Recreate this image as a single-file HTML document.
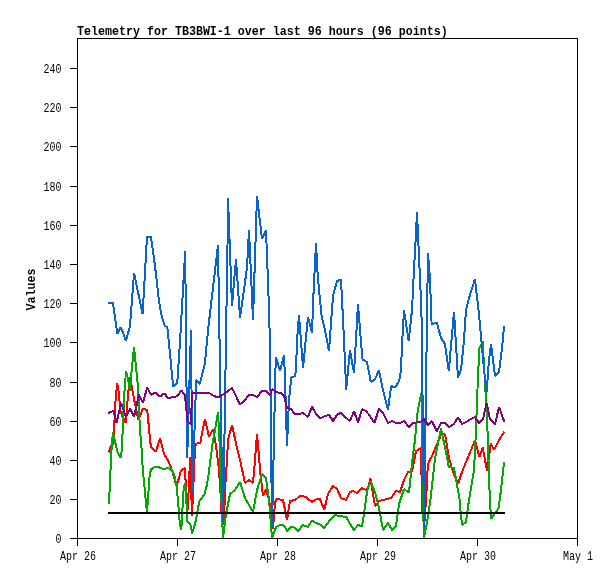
<!DOCTYPE html>
<html><head><meta charset="utf-8"><title>Telemetry</title>
<style>
html,body{margin:0;padding:0;background:#fff;}
body{width:615px;height:579px;overflow:hidden;}
svg{display:block;will-change:transform}
text{font-family:"Liberation Mono",monospace;fill:#000}
.s{font-size:10px}
.b{font-size:11.67px;font-weight:bold}
</style></head><body>
<svg width="615" height="579" viewBox="0 0 615 579">
<rect width="615" height="579" fill="#fff"/>
<rect x="77.5" y="38.5" width="500" height="500" fill="none" stroke="#000" stroke-width="1" shape-rendering="crispEdges"/>
<line x1="70" y1="538.5" x2="77" y2="538.5" stroke="#000" stroke-width="1" shape-rendering="crispEdges"/><text transform="translate(61.4,542.9) scale(1,1.2)" text-anchor="end" class="s">0</text><line x1="70" y1="499.5" x2="77" y2="499.5" stroke="#000" stroke-width="1" shape-rendering="crispEdges"/><text transform="translate(61.4,503.9) scale(1,1.2)" text-anchor="end" class="s">20</text><line x1="70" y1="460.5" x2="77" y2="460.5" stroke="#000" stroke-width="1" shape-rendering="crispEdges"/><text transform="translate(61.4,464.9) scale(1,1.2)" text-anchor="end" class="s">40</text><line x1="70" y1="421.5" x2="77" y2="421.5" stroke="#000" stroke-width="1" shape-rendering="crispEdges"/><text transform="translate(61.4,425.9) scale(1,1.2)" text-anchor="end" class="s">60</text><line x1="70" y1="382.5" x2="77" y2="382.5" stroke="#000" stroke-width="1" shape-rendering="crispEdges"/><text transform="translate(61.4,386.9) scale(1,1.2)" text-anchor="end" class="s">80</text><line x1="70" y1="342.5" x2="77" y2="342.5" stroke="#000" stroke-width="1" shape-rendering="crispEdges"/><text transform="translate(61.4,346.9) scale(1,1.2)" text-anchor="end" class="s">100</text><line x1="70" y1="303.5" x2="77" y2="303.5" stroke="#000" stroke-width="1" shape-rendering="crispEdges"/><text transform="translate(61.4,307.9) scale(1,1.2)" text-anchor="end" class="s">120</text><line x1="70" y1="264.5" x2="77" y2="264.5" stroke="#000" stroke-width="1" shape-rendering="crispEdges"/><text transform="translate(61.4,268.9) scale(1,1.2)" text-anchor="end" class="s">140</text><line x1="70" y1="225.5" x2="77" y2="225.5" stroke="#000" stroke-width="1" shape-rendering="crispEdges"/><text transform="translate(61.4,229.9) scale(1,1.2)" text-anchor="end" class="s">160</text><line x1="70" y1="186.5" x2="77" y2="186.5" stroke="#000" stroke-width="1" shape-rendering="crispEdges"/><text transform="translate(61.4,190.9) scale(1,1.2)" text-anchor="end" class="s">180</text><line x1="70" y1="146.5" x2="77" y2="146.5" stroke="#000" stroke-width="1" shape-rendering="crispEdges"/><text transform="translate(61.4,150.9) scale(1,1.2)" text-anchor="end" class="s">200</text><line x1="70" y1="107.5" x2="77" y2="107.5" stroke="#000" stroke-width="1" shape-rendering="crispEdges"/><text transform="translate(61.4,111.9) scale(1,1.2)" text-anchor="end" class="s">220</text><line x1="70" y1="68.5" x2="77" y2="68.5" stroke="#000" stroke-width="1" shape-rendering="crispEdges"/><text transform="translate(61.4,72.9) scale(1,1.2)" text-anchor="end" class="s">240</text>
<line x1="77.5" y1="538" x2="77.5" y2="546" stroke="#000" stroke-width="1" shape-rendering="crispEdges"/><text transform="translate(78,559.5) scale(1,1.2)" text-anchor="middle" class="s">Apr 26</text><line x1="177.5" y1="538" x2="177.5" y2="546" stroke="#000" stroke-width="1" shape-rendering="crispEdges"/><text transform="translate(178,559.5) scale(1,1.2)" text-anchor="middle" class="s">Apr 27</text><line x1="277.5" y1="538" x2="277.5" y2="546" stroke="#000" stroke-width="1" shape-rendering="crispEdges"/><text transform="translate(278,559.5) scale(1,1.2)" text-anchor="middle" class="s">Apr 28</text><line x1="377.5" y1="538" x2="377.5" y2="546" stroke="#000" stroke-width="1" shape-rendering="crispEdges"/><text transform="translate(378,559.5) scale(1,1.2)" text-anchor="middle" class="s">Apr 29</text><line x1="477.5" y1="538" x2="477.5" y2="546" stroke="#000" stroke-width="1" shape-rendering="crispEdges"/><text transform="translate(478,559.5) scale(1,1.2)" text-anchor="middle" class="s">Apr 30</text><line x1="577.5" y1="538" x2="577.5" y2="546" stroke="#000" stroke-width="1" shape-rendering="crispEdges"/><text transform="translate(578,559.5) scale(1,1.2)" text-anchor="middle" class="s">May 1</text>
<text transform="translate(77,34.6) scale(1,1.1)" class="b">Telemetry for TB3BWI-1 over last 96 hours (96 points)</text>
<text transform="translate(35.3,289.5) rotate(-90) scale(1,1.1)" text-anchor="middle" class="b">Values</text>
<polyline points="109,451.3 110.6,446.7 113.6,443.2 115.1,405.3 117.1,383.1 119.1,394.2 120.1,410.3 121.6,414.4 125.7,422.9 126.7,410.3 128.2,393.2 129.7,377 131.7,386 134.2,400 138.3,419.4 140.8,414.4 142.8,408.3 147.3,410.3 149.4,433 150.9,447.2 155.9,451.8 160,438.1 164,454.2 168,460.2 172,470.3 176.6,486.5 180.7,471.3 184.7,467.8 187.7,510.2 190.2,457.2 192,516 194.8,452.2 195.8,443.6 200.3,443.1 202.3,432 205,419 209,437 213,429 216,446 219,470 221,500 222,527 224,520 225,490 227,460 228,440 232,425 237,448 240,460 245,483 249,480 253,483 255,460 257,434 259,456 260,470 263,496 266,489 269,500 272,520 273,529 275,502 277,499 283,500 287,520 290,501 295,500 300,496 305,496.6 312,502 316,499.4 320,499 324.2,510 328,494 333,486 337,489 341,498 346,500 350,492 353,491 357,493 361.6,488 366,490 368,488 370.4,478 375,506 379,501 383,500 387,499 391,498 396,491 400,492 404,480 408,472 412,471 416,451 421,448 421.4,470 422.6,516 424.3,524.5 426,500 427,482 427.6,469 428.6,462 432,456 437,444 441,435 445,434 449,458 453,472 458,484 462,472 466,462 471,450 475,440 479.3,457 482.7,447.3 487,470.5 490.8,443.5 494,450 499,440 504,432.4" fill="none" stroke="#FF0000" stroke-width="2" stroke-linejoin="bevel" stroke-linecap="square" shape-rendering="crispEdges"/>
<polyline points="109,503 111,459 112,441 113,432.6 115,441 117.1,451 120.6,457.8 122,449 122.6,432 124.2,395 126,371 128.2,380 130,391 131.2,375 134,347 136.3,370 137.8,385 138.8,400 139.8,428 141.8,451 142.8,470 147,512.5 149.4,478 150.9,469.4 154.4,467.4 159.4,467.4 163.5,469.3 167.6,467.8 172,470.3 174.1,474.4 176.6,486.5 178.1,502 179.7,522 180.9,529.4 182.2,522 182.7,500 183.7,489 185,483 186.4,494 186.7,520.8 189.2,522.8 190.7,525.3 192,533.4 194.3,526.4 196.3,518.3 197.8,509.2 199.3,501.2 204.4,494.6 206.9,485 208.4,475.4 210.4,460.2 212.4,445 215,430 218,412.4 220,450 221,490 223,538 226,514 230,494 235,490 240,482 245,498 253,512 257,490 262,474 266,478 269,500 272,538 276,527 280,525 284,525.4 287,531 291,527 294,527.4 298,531 303,525 308,527 312,520.6 316,523 320,524.5 324,528 330,520 335,515 340,516.4 346,516.6 350,524 354,530 358,525 362,526.4 364,514 367,492 370.4,481 375,492 379,508 383,530 388,523 392,530 396,526 399,504 404,489 409,492.5 410.5,478 412,463 413.6,450 415,440 417,416 419,404 421.5,393 422,440 423,500 424,538 427,522 430.7,498 433,476 435.1,458 441,428.5 447.2,458 448.8,467.2 453.9,467.7 455.4,475.3 457.4,487.4 459.4,497.5 460,506 462,525 466,522 469,500 474,470 476,430 477,400 478,378 479,355 479.5,348 482.6,341.5 483.7,360 485.7,395 486.4,410 488,440 489,480 491,519 495,513 498.4,509 501,490 504,463" fill="none" stroke="#00AA00" stroke-width="2" stroke-linejoin="bevel" stroke-linecap="square" shape-rendering="crispEdges"/>
<polyline points="109,303 113,303 117.3,334 120.8,327 126,341 130,326 134,273 138.2,293 142.6,314 147,237 151,237 155,266 159,301 161,313 163,321 165,326 167.3,327 173.2,386.5 177.3,382.5 179.8,345 185.2,251 187.2,458 191,330 192.4,493 196.2,380 199.8,384 204.8,364 208.3,328 212,296 218,245 219.3,327 220.3,386 223,522 225.1,400 226.2,320 227.2,275 228,198 232,306 236,259 240,317.5 247,268 249,230 253,319.7 257,196 262,239 266,230 267.8,277 269,309 270,345 272,528 274.4,420 275,380 276,357 280,371 284,355.5 285,378 287,446 289,400 291.3,377.5 295.3,376 296.3,360 297.3,337 299,315 303,368 308,317 312,333 313.2,300 316,243 317.6,274 319.6,296 321.6,316 325,330 329,351 333,296 337,281 341,279.6 343.3,325 346.2,389.5 350,350 354,373 358,304 360.8,340 362.6,359.6 367,362 370.8,382 375,379.5 379,370 383,390 388,409.5 391.2,386 395.3,387.5 399.3,380.5 401,370 402,345 404,310.5 408.7,341 412,310 413.6,277 415.3,246 417,212 418.6,248 420.3,285 421.7,322 424,527 427.4,290 428,253 430,280 431.6,324 437,323 441,338 445,344 448.8,371 454,312 458,377.5 461,370 464,340 466,310 469,298 475,279 477,297 479,314 481,336 484,370 486.6,391.7 489,360 491,344 495,376 499,372 502,348 504,327" fill="none" stroke="#0864CC" stroke-width="2" stroke-linejoin="bevel" stroke-linecap="square" shape-rendering="crispEdges"/>
<polyline points="109,412.8 113.6,410.8 116.6,422.9 121.1,402.8 125.7,416.9 130.2,408.8 134.2,416.9 138.8,394.7 142.8,402.8 147.3,387.6 150.9,394.7 155.4,392.7 160,396.7 164.5,393.2 168,398.6 172,397 177,396.4 181.4,390.6 185,395 187.4,421 191,424.4 192,393 209,393 214,396 218,397.4 224,394 232,388 240,404.4 244,401 249,395 253,395 257,397 262,391 266,391 270,395 272,389 277,392.4 281,393 284,396 287,408 291,409 295,414.4 299,414 303,413 308,417 312,406.5 316,414 320,418.4 324,416.4 329,415 333,421 337,415 341,412.4 345,417 350,421 354,411 358,422.6 362,409 366,411 370,416 374.4,423 379,408.6 383,413 388,423 392,421 396,423 400,423 404,421 409,427 413,423 417,422.6 421,421.6 424,419 428,425 432,421 436.8,431.5 441,423 445,423 449,427 454,424 458,417 462,424 466,422 471,419 475,417 479,423 483,419 486.6,403 490,419 495,424.4 499,407 504,421" fill="none" stroke="#800080" stroke-width="2" stroke-linejoin="bevel" stroke-linecap="square" shape-rendering="crispEdges"/>
<rect x="108" y="512" width="397" height="2" fill="#000" shape-rendering="crispEdges"/>
</svg>
</body></html>
